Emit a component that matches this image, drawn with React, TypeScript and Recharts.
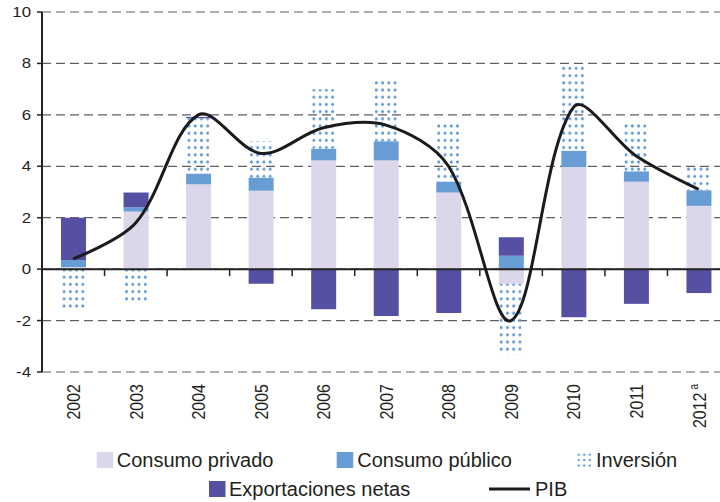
import React from "react";
import {
  Bar,
  CartesianGrid,
  ComposedChart,
  Legend,
  Line,
  ReferenceLine,
  XAxis,
  YAxis,
} from "recharts";

const years = ["2002", "2003", "2004", "2005", "2006", "2007", "2008", "2009", "2010", "2011", "2012"];
const consumoPrivado = [0.08, 2.24, 3.3, 3.05, 4.23, 4.23, 2.98, -0.57, 3.97, 3.4, 2.46];
const consumoPublico = [0.28, 0.17, 0.41, 0.5, 0.45, 0.74, 0.42, 0.52, 0.63, 0.4, 0.6];
const inversion = [-1.6, -1.25, 2.16, 1.42, 2.32, 2.44, 2.28, -2.76, 3.35, 1.88, 0.93];
const exportacionesNetas = [1.64, 0.57, 0.05, -0.57, -1.56, -1.82, -1.71, 0.72, -1.87, -1.35, -0.93];
const pib = [0.4, 1.8, 6.0, 4.5, 5.5, 5.6, 4.0, -2.0, 6.3, 4.4, 3.1];
const yTicks = [-4, -2, 0, 2, 4, 6, 8, 10];

const data = years.map((year, i) => ({
  year,
  privado: consumoPrivado[i],
  publico: consumoPublico[i],
  inversion: inversion[i],
  exportaciones: exportacionesNetas[i],
  pib: pib[i],
}));

const LAVENDER = "#dbd6ea";
const BLUE = "#689cd4";
const PURPLE = "#5550a2";
const DOT = "#5b96d6";
const TEXT = "#231f20";

// spreadsheet-style smoothed line: bezier handles scaled by neighbouring segment lengths
function smoothCurve(context: any) {
  let pts: number[][] = [];
  return {
    areaStart() {},
    areaEnd() {},
    lineStart() {
      pts = [];
    },
    point(x: number, y: number) {
      pts.push([+x, +y]);
    },
    lineEnd() {
      const n = pts.length;
      if (!n) return;
      context.moveTo(pts[0][0], pts[0][1]);
      if (n === 1) return;
      const cin: number[][] = pts.map((p) => p.slice());
      const cout: number[][] = pts.map((p) => p.slice());
      for (let i = 1; i < n - 1; i++) {
        const [px, py] = pts[i - 1];
        const [cx, cy] = pts[i];
        const [nx, ny] = pts[i + 1];
        const tx = nx - px;
        const ty = ny - py;
        const d1 = Math.hypot(cx - px, cy - py);
        const d2 = Math.hypot(nx - cx, ny - cy);
        const sum = d1 + d2 || 1;
        cout[i] = [cx + (tx * d2) / sum / 3, cy + (ty * d2) / sum / 3];
        cin[i] = [cx - (tx * d1) / sum / 3, cy - (ty * d1) / sum / 3];
      }
      for (let i = 0; i < n - 1; i++) {
        context.bezierCurveTo(cout[i][0], cout[i][1], cin[i + 1][0], cin[i + 1][1], pts[i + 1][0], pts[i + 1][1]);
      }
    },
  };
}

function YTick(props: any) {
  const { x, y, payload } = props;
  return (
    <text
      transform={`translate(${x},${y}) scale(1.2,1)`}
      textAnchor="end"
      dominantBaseline="central"
      fontSize={14}
      fill={TEXT}
    >
      {payload.value}
    </text>
  );
}

function XTick(props: any) {
  const { x, y, payload } = props;
  const last = payload.value === "2012";
  return (
    <g transform={`translate(${x},${y + 12}) scale(1.2,1) rotate(-90)`}>
      <text x={0} y={5.7} textAnchor="end" fontSize={16} fill={TEXT}>
        {payload.value}
        {last && (
          <tspan fontSize={10} dx={3} dy={-6}>
            a
          </tspan>
        )}
      </text>
    </g>
  );
}

function ZeroLine(props: any) {
  const { x1, y1, x2 } = props;
  const step = (x2 - x1) / years.length;
  return (
    <g>
      <line x1={x1} y1={y1} x2={x2} y2={y1} stroke="#222" strokeWidth={2} />
      {years.slice(1).map((_, k) => (
        <line
          key={k}
          x1={x1 + (k + 1) * step}
          x2={x1 + (k + 1) * step}
          y1={y1}
          y2={y1 + 7}
          stroke="#222"
          strokeWidth={1.5}
        />
      ))}
    </g>
  );
}

function LegendBox() {
  const r1 = 28;
  const r2 = 57;
  const fs = 20;
  return (
    <svg width={730} height={70} style={{ display: "block" }}>
      <defs>
        <pattern id="legendDots" patternUnits="userSpaceOnUse" x={576} y={r1 - 8} width={5.5} height={5.4}>
          <circle cx={2.75} cy={2.7} r={1.2} fill={DOT} />
        </pattern>
      </defs>
      <rect x={96.7} y={r1 - 8} width={16.5} height={16} fill={LAVENDER} />
      <text x={116.7} y={r1} dominantBaseline="central" fontSize={fs} fill={TEXT}>
        Consumo privado
      </text>
      <rect x={336.7} y={r1 - 8} width={16.5} height={16} fill={BLUE} />
      <text x={357.3} y={r1} dominantBaseline="central" fontSize={fs} fill={TEXT}>
        Consumo público
      </text>
      <rect x={576} y={r1 - 8} width={16.5} height={16} fill="url(#legendDots)" />
      <text x={596} y={r1} dominantBaseline="central" fontSize={fs} fill={TEXT}>
        Inversión
      </text>
      <rect x={209} y={r2 - 8} width={16.5} height={16} fill={PURPLE} />
      <text x={229} y={r2} dominantBaseline="central" fontSize={fs} fill={TEXT}>
        Exportaciones netas
      </text>
      <line x1={489} x2={530} y1={r2} y2={r2} stroke="#1b1b1b" strokeWidth={3} />
      <text x={535} y={r2} dominantBaseline="central" fontSize={fs} fill={TEXT}>
        PIB
      </text>
    </svg>
  );
}

export default function App() {
  return (
    <div
      style={{
        position: "absolute",
        left: 0,
        top: 0,
        width: 720,
        height: 502,
        overflow: "hidden",
        background: "#fff",
        fontFamily: '"Liberation Sans", Arial, sans-serif',
      }}
    >
      <ComposedChart
        width={740}
        height={502}
        data={data}
        stackOffset="sign"
        barSize={25}
        margin={{ top: 12, right: 10, bottom: 0, left: 0 }}
      >
        <defs>
          <pattern id="dots" patternUnits="userSpaceOnUse" x={61} y={0} width={6.244} height={7.2}>
            <circle cx={3.12} cy={3.6} r={1.5} fill={DOT} />
          </pattern>
        </defs>
        <CartesianGrid vertical={false} stroke="#5f5f5f" strokeDasharray="9 5" strokeWidth={1.2} />
        <XAxis
          dataKey="year"
          interval={0}
          axisLine={false}
          tickLine={false}
          tickSize={0}
          tickMargin={0}
          height={60}
          tick={<XTick />}
        />
        <YAxis
          domain={[-4, 10]}
          ticks={yTicks}
          width={42}
          axisLine={{ stroke: "#222", strokeWidth: 2 }}
          tickLine={{ stroke: "#222", strokeWidth: 1.5 }}
          tickSize={5}
          tickMargin={6}
          tick={<YTick />}
        />
        <Legend verticalAlign="bottom" wrapperStyle={{ left: 0, bottom: 0, width: 730, height: 70 }} content={<LegendBox />} />
        <Bar dataKey="privado" name="Consumo privado" stackId="a" fill={LAVENDER} isAnimationActive={false} />
        <Bar dataKey="publico" name="Consumo público" stackId="a" fill={BLUE} isAnimationActive={false} />
        <Bar dataKey="inversion" name="Inversión" stackId="a" fill="url(#dots)" isAnimationActive={false} />
        <Bar dataKey="exportaciones" name="Exportaciones netas" stackId="a" fill={PURPLE} isAnimationActive={false} />
        <ReferenceLine y={0} shape={<ZeroLine />} />
        <Line
          dataKey="pib"
          name="PIB"
          type={smoothCurve as any}
          stroke="#1b1b1b"
          strokeWidth={3}
          dot={false}
          activeDot={false}
          isAnimationActive={false}
        />
      </ComposedChart>
    </div>
  );
}
